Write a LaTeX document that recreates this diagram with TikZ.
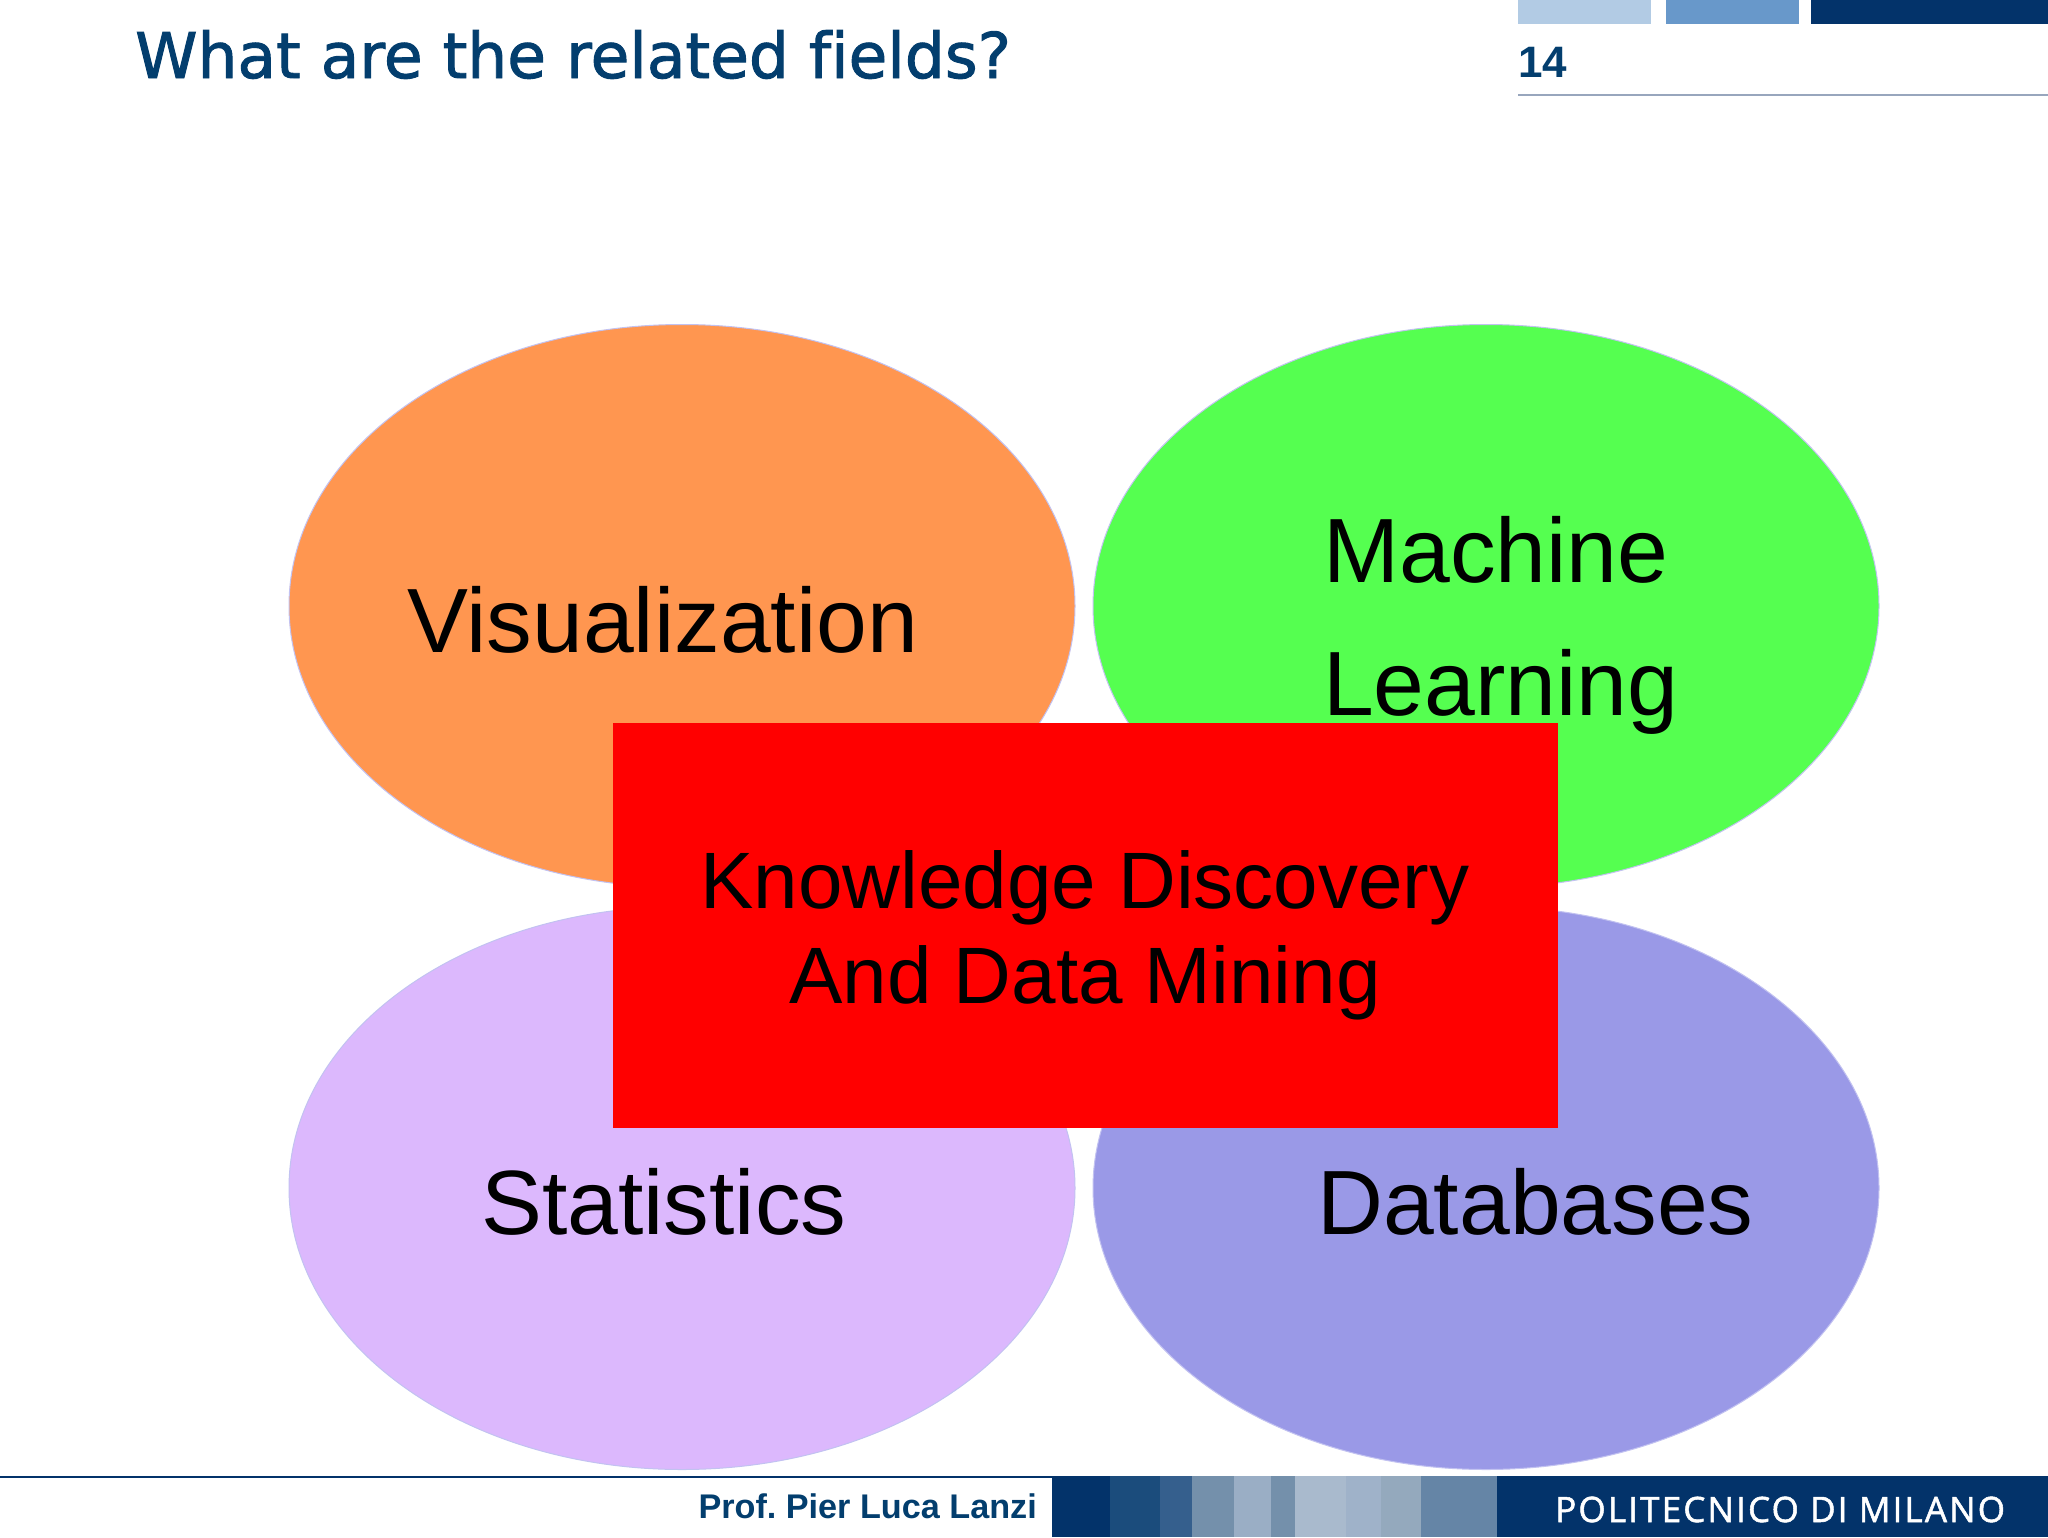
\documentclass[tikz,border=0pt]{standalone}
\usepackage{fontspec}
\setmainfont{Liberation Sans}
\newfontfamily\titlefont[Ligatures=NoCommon,FakeBold=1.5]{DejaVu Sans}
\newfontfamily\logofont[LetterSpace=6.2,FakeBold=1.5]{Open Sans}
\usetikzlibrary{shapes.geometric}
\definecolor{navy}{HTML}{03336A}
\definecolor{titleblue}{HTML}{033E6E}
\definecolor{paletab}{HTML}{B2CBE4}
\definecolor{midtab}{HTML}{6898CA}
\definecolor{rulegrey}{HTML}{98A6BD}
\definecolor{orangefield}{HTML}{FF9650}
\definecolor{greenfield}{HTML}{55FF50}
\definecolor{lilacfield}{HTML}{DCB8FD}
\definecolor{bluefield}{HTML}{9A99E7}
\tikzset{
  field/.style={draw=bluefield!60!white, line width=1pt, ellipse, minimum width=786pt, minimum height=563pt, inner sep=0pt},
  fieldtext/.style={anchor=base west, inner sep=0pt, font=\fontsize{91.3}{91}\selectfont},
  coretext/.style={anchor=base, inner sep=0pt, font=\fontsize{80}{80}\selectfont},
}
\begin{document}
\frenchspacing
\begin{tikzpicture}[x=1pt, y=-1pt]
\useasboundingbox (0,0) rectangle (2048,1537);
\fill[white] (0,0) rectangle (2048,1537);
% header
\node[anchor=base west, inner sep=0pt, text=titleblue, font=\titlefont\fontsize{63}{63}\selectfont] (title) at (135,78) {What are the related fields?};
\fill[paletab] (1518,0) rectangle (1651,24);
\fill[midtab] (1666,0) rectangle (1799,24);
\fill[navy] (1811,0) rectangle (2048,24);
\node[anchor=base west, inner sep=0pt, text=titleblue, font=\bfseries\fontsize{44}{45}\selectfont] (page) at (1518,77) {14};
\coordinate (ruleA) at (1518,95);
\coordinate (ruleB) at (2048,95);
\draw[line width=1.5pt, rulegrey] (ruleA) -- (ruleB);
% fields
\node[field, fill=orangefield] (vis) at (682,606) {};
\node[field, fill=greenfield] (ml) at (1486,606) {};
\node[field, fill=lilacfield] (stat) at (682,1188) {};
\node[field, fill=bluefield] (db) at (1486,1188) {};
\node[fieldtext] (vistext) at (407,652) {Visualization};
\node[fieldtext] (mltext) at (1323,582) {Machine};
\node[fieldtext] (mltextb) at (1323,715) {Learning};
\node[fieldtext] (stattext) at (481,1234) {Statistics};
\node[fieldtext] (dbtext) at (1317,1234) {Databases};
% centre
\node[fill=red, rectangle, anchor=north west, minimum width=945pt, minimum height=405pt, inner sep=0pt] (core) at (613,723) {};
\node[coretext] (coretexta) at (1085,908) {Knowledge Discovery};
\node[coretext] (coretextb) at (1085,1003) {And Data Mining};
% footer
\coordinate (lineA) at (0,1477);
\coordinate (lineB) at (1052,1477);
\draw[line width=2.5pt, navy] (lineA) -- (lineB);
\node[anchor=base east, inner sep=0pt, text=titleblue, font=\bfseries\fontsize{34.2}{35}\selectfont] (prof) at (1037,1518) {Prof. Pier Luca Lanzi};
\fill[navy] (1052,1476) rectangle (2048,1537);
\foreach \a/\b/\c in {1110/1160/1B4C7C, 1160/1192/355F8D, 1192/1234/7490AB, 1234/1271/9AAEC5, 1271/1295/7490AB, 1295/1346/A9BACD, 1346/1381/9FB2C9, 1381/1421/94A9BD, 1421/1497/6585A6}{
  \definecolor{stripe}{HTML}{\c}
  \fill[stripe] (\a,1476) rectangle (\b,1537);
}
\node[anchor=base west, inner sep=0pt, text=white, font=\logofont\fontsize{35}{35}\selectfont] (logo) at (1555,1522) {POLITECNICO DI MILANO};
\end{tikzpicture}
\end{document}
